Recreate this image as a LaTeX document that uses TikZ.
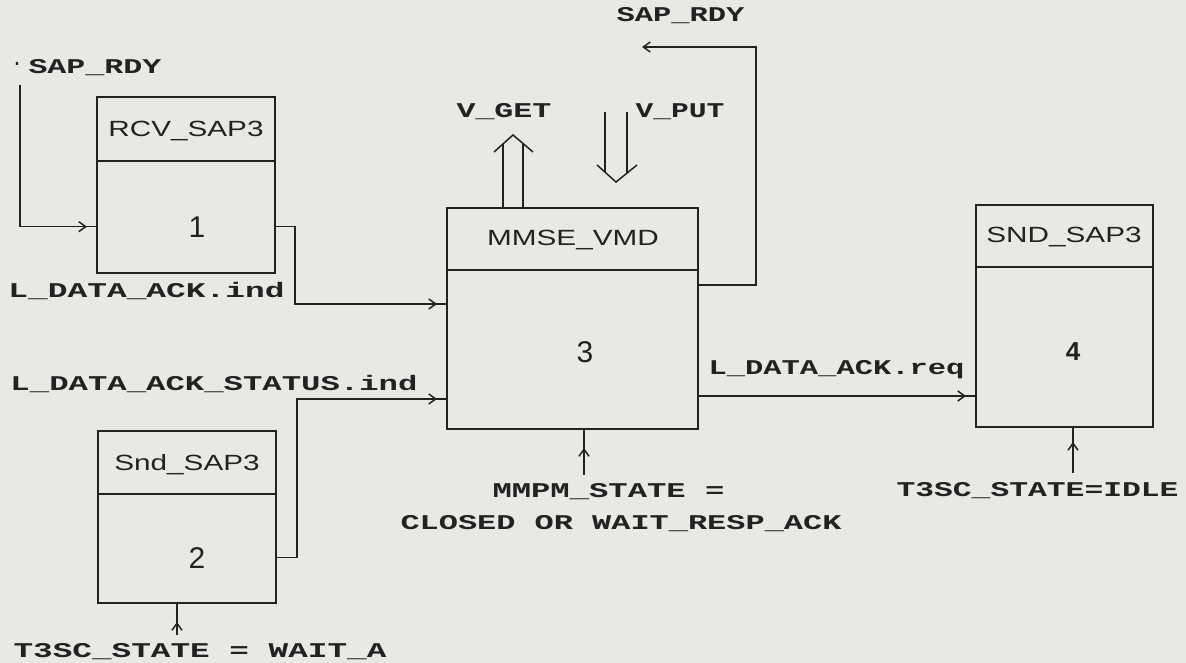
\documentclass[tikz,border=0pt]{standalone}
\usepackage{fontspec}
\usepackage{graphicx}
\usetikzlibrary{arrows.meta,decorations.markings}
\newfontfamily\ttlfont{Liberation Sans}
\newfontfamily\lblfont{Liberation Mono}
\definecolor{bg}{RGB}{232,232,229}
\definecolor{ink}{RGB}{34,34,34}
\newcommand\lab[2]{\resizebox{#1pt}{\height}{\lblfont\bfseries\fontsize{21}{21}\selectfont #2}}
\newcommand\ttl[1]{\scalebox{1.35}[1]{\ttlfont\fontsize{22}{22}\selectfont #1}}
\newcommand\numtxt[1]{{\ttlfont\fontsize{30}{30}\selectfont #1}}
\tikzset{
  box/.style 2 args={draw=ink, line width=1.7pt, minimum width=#1, minimum height=#2,
    anchor=north west, inner sep=0pt, outer sep=0pt},
  edge/.style={draw=ink, line width=1.6pt},
  conn/.style={draw=ink, line width=1.5pt},
  lbl/.style={inner sep=0pt, outer sep=0pt, text=ink},
  tipat/.style={postaction={decorate}, decoration={markings,
    mark=at position #1 with {\arrow{Straight Barb[length=7pt,width=10pt]}}}},
  endtip/.style={-{Straight Barb[length=7pt,width=10pt]}}
}
\begin{document}
\begin{tikzpicture}[x=1pt,y=-1pt]
\fill[bg] (0,0) rectangle (1186,663);
\useasboundingbox (0,0) rectangle (1186,663);

% boxes
\node[box={178pt}{176pt}] (b1) at (97,97) {};
\node[box={178pt}{172pt}] (b2) at (98,431) {};
\node[box={251pt}{221pt}] (b3) at (447,208) {};
\node[box={177pt}{222pt}] (b4) at (976,205) {};
\draw[edge] ([yshift=-64pt]b1.north west) -- ([yshift=-64pt]b1.north east);
\draw[edge] ([yshift=-63pt]b2.north west) -- ([yshift=-63pt]b2.north east);
\draw[edge] ([yshift=-62pt]b3.north west) -- ([yshift=-62pt]b3.north east);
\draw[edge] ([yshift=-62pt]b4.north west) -- ([yshift=-62pt]b4.north east);

% titles
\node[lbl, anchor=base] (h1) at (186,137) {\ttl{RCV\_SAP3}};
\node[lbl, anchor=base] (h2) at (187,470) {\ttl{Snd\_SAP3}};
\node[lbl, anchor=base] (h3) at (573,245) {\ttl{MMSE\_VMD}};
\node[lbl, anchor=base] (h4) at (1064,243) {\ttl{SND\_SAP3}};

% numbers
\node[lbl, anchor=base] (n1) at (197,237) {\numtxt{1}};
\node[lbl, anchor=base] (n2) at (197,568) {\numtxt{2}};
\node[lbl, anchor=base] (n3) at (585,362) {\numtxt{3}};
\node[lbl, anchor=base] (n4) at (1073,360) {{\ttlfont\bfseries\fontsize{26}{26}\selectfont 4}};

% labels
\node[lbl, anchor=base west] (dot) at (12,74) {\lab{10}{\raisebox{8pt}{.}}};
\node[lbl, anchor=base west] (tsap1) at (28.5,74) {\lab{133}{SAP\_RDY}};
\node[lbl, anchor=base west] (tlack) at (8.5,297) {\lab{276}{L\_DATA\_ACK.ind}};
\node[lbl, anchor=base west] (tlstat) at (10.5,390) {\lab{407}{L\_DATA\_ACK\_STATUS.ind}};
\node[lbl, anchor=base west] (twait) at (13.5,657) {\lab{373}{T3SC\_STATE = WAIT\_A}};
\node[lbl, anchor=base] (tmmpm) at (608.5,497) {\lab{232}{MMPM\_STATE =}};
\node[lbl, anchor=base] (tclosed) at (621,529) {\lab{441}{CLOSED OR WAIT\_RESP\_ACK}};
\node[lbl, anchor=base west] (treq) at (708.5,374) {\lab{256}{L\_DATA\_ACK.req}};
\node[lbl, anchor=base west] (tidle) at (896.5,496) {\lab{282}{T3SC\_STATE=IDLE}};
\node[lbl, anchor=base west] (tvget) at (456.5,118) {\lab{95}{V\_GET}};
\node[lbl, anchor=base west] (tvput) at (635.5,118) {\lab{89}{V\_PUT}};
\node[lbl, anchor=base west] (tsap2) at (616.5,22) {\lab{128}{SAP\_RDY}};

% connectors
\coordinate (s1) at (20,85);
\draw[conn, tipat=-10pt] (s1) |- (b1.west |- n1);
\coordinate (j1) at (295,304);
\draw[conn, tipat=-10pt] (b1.east |- n1) -| (j1) -- (b3.west |- j1);
\coordinate (j2) at (297,399);
\draw[conn, tipat=-10pt] (b2.east |- n2) -| (j2) -- (b3.west |- j2);
\coordinate (j3) at (800,396);
\draw[conn, tipat=-10pt] (b3.east |- j3) -- (b4.west |- j3);
\coordinate (j4) at (756,285);
\coordinate (f1) at (756,47);
\coordinate (f2) at (642,47);
\draw[conn, endtip] (b3.east |- j4) -| (f1) -- (f2);

\coordinate (m3) at (584,475);
\draw[conn, tipat=-19pt] (m3) -- (b3.south -| m3);
\coordinate (m4) at (1073,473);
\draw[conn, tipat=-15pt] (m4) -- (b4.south -| m4);
\coordinate (m2) at (177,635);
\draw[conn, tipat=-19pt] (m2) -- (b2.south -| m2);

% V_GET hollow arrow
\coordinate (gL) at (494,152);
\coordinate (gT) at (513,135);
\coordinate (gR) at (533,152);
\coordinate (g1) at (503,144);
\coordinate (g2) at (523,144);
\draw[conn] (b3.north -| g1) -- (g1);
\draw[conn] (b3.north -| g2) -- (g2);
\draw[conn] (gL) -- (gT) -- (gR);

% V_PUT hollow arrow
\coordinate (p1) at (605,112);
\coordinate (p2) at (627,112);
\coordinate (q1) at (605,172);
\coordinate (q2) at (627,173);
\coordinate (pL) at (597,165);
\coordinate (pT) at (616,182);
\coordinate (pR) at (637,165);
\draw[conn] (p1) -- (q1);
\draw[conn] (p2) -- (q2);
\draw[conn] (pL) -- (pT) -- (pR);
\end{tikzpicture}
\end{document}
